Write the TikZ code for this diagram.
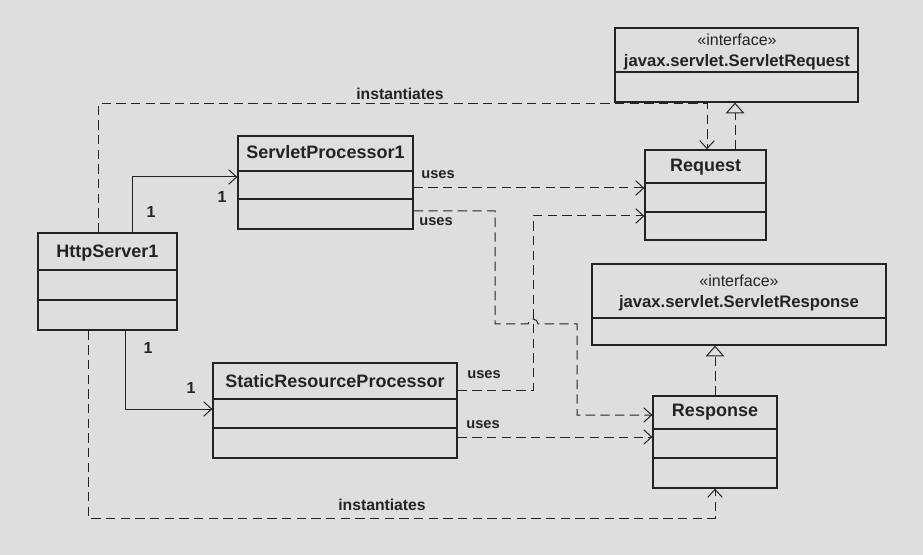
\documentclass[tikz,border=0pt]{standalone}
\usepackage{fontspec}
\setmainfont{Liberation Sans}
\usetikzlibrary{arrows.meta,fit}

\definecolor{paper}{RGB}{222,222,220}
\definecolor{ink}{RGB}{35,35,35}

\tikzset{every picture/.style={line width=0.75pt}}
\tikzset{
  classbox/.style={draw=ink, inner sep=0pt, line width=1pt},
  compline/.style={draw=ink, line width=1pt},
  classname/.style={font=\fontsize{13.5}{16}\selectfont\bfseries, text=ink},
  ifacename/.style={font=\fontsize{12.5}{15}\selectfont\bfseries, text=ink},
  stereo/.style={font=\fontsize{12}{14}\selectfont, text=ink},
  edgelabel/.style={font=\fontsize{11}{13}\selectfont\bfseries, text=ink},
  instlabel/.style={font=\fontsize{11.8}{14}\selectfont\bfseries, text=ink},
  multlabel/.style={font=\fontsize{12}{14}\selectfont\bfseries, text=ink},
  dep/.style={draw=ink, dash pattern=on 7pt off 4pt, -{Straight Barb[length=6pt,width=11pt]}},
  assoc/.style={draw=ink, -{Straight Barb[length=6pt,width=11pt]}},
  realize/.style={draw=ink, dash pattern=on 7pt off 4pt, -{Triangle[open,length=8pt,width=14pt,fill=paper]}},
}

\begin{document}
\begin{tikzpicture}[x=0.75pt,y=0.75pt,yscale=-1,xscale=1]

%Shape: Background
\fill[paper] (0,0) rectangle (923,555);

%Shape: Rectangle [interface ServletRequest]
\node[classbox, fit={(615,28) (858,102)}] (sreq) {};
\draw[compline] (sreq.west |- 0,72) -- (sreq.east |- 0,72);
%Shape: Rectangle [Request]
\node[classbox, fit={(645,150) (766,240)}] (req) {};
\draw[compline] (req.west |- 0,183) -- (req.east |- 0,183);
\draw[compline] (req.west |- 0,212) -- (req.east |- 0,212);
%Shape: Rectangle [ServletProcessor1]
\node[classbox, fit={(238,136) (413,229)}] (sp) {};
\draw[compline] (sp.west |- 0,171) -- (sp.east |- 0,171);
\draw[compline] (sp.west |- 0,199) -- (sp.east |- 0,199);
%Shape: Rectangle [HttpServer1]
\node[classbox, fit={(38,233) (177,330)}] (http) {};
\draw[compline] (http.west |- 0,270) -- (http.east |- 0,270);
\draw[compline] (http.west |- 0,300) -- (http.east |- 0,300);
%Shape: Rectangle [StaticResourceProcessor]
\node[classbox, fit={(213,363) (457,458)}] (srp) {};
\draw[compline] (srp.west |- 0,399) -- (srp.east |- 0,399);
\draw[compline] (srp.west |- 0,428) -- (srp.east |- 0,428);
%Shape: Rectangle [interface ServletResponse]
\node[classbox, fit={(592,264) (886,345)}] (sres) {};
\draw[compline] (sres.west |- 0,318) -- (sres.east |- 0,318);
%Shape: Rectangle [Response]
\node[classbox, fit={(653,396) (777,488)}] (resp) {};
\draw[compline] (resp.west |- 0,429) -- (resp.east |- 0,429);
\draw[compline] (resp.west |- 0,458) -- (resp.east |- 0,458);

%Straight Lines [realizations]
\draw[realize] (req.north -| 735,0) -- (sreq.south -| 735,0);
\draw[realize] (resp.north -| 715,0) -- (sres.south -| 715,0);

%Straight Lines [instantiates]
\draw[dep] (http.north -| 98,0) -- (98,104) -- (707,104) -- (req.north -| 707,0);
\draw[dep] (http.south -| 88,0) -- (88,518) -- (715,518) -- (resp.south -| 715,0);

%Straight Lines [associations]
\draw[assoc] (http.north -| 132,0) -- (132,177) -- (sp.west |- 0,177);
\draw[assoc] (http.south -| 125,0) -- (125,409) -- (srp.west |- 0,409);

%Straight Lines [uses]
\draw[dep] (sp.east |- 0,188) -- (req.west |- 0,188);
\draw[dep] (sp.east |- 0,211) -- (495,211) -- (495,324) -- (528,324) arc (180:360:5) -- (577,324) -- (577,415) -- (resp.west |- 0,415);
\draw[dep] (srp.east |- 0,390) -- (533,390) -- (533,216) -- (req.west |- 0,216);
\draw[dep] (srp.east |- 0,437) -- (resp.west |- 0,437);

% Text Node
\node[stereo] (sreqst) at (737,40) {«interface»};
% Text Node
\node[ifacename] (sreqname) at (737,62) {javax.servlet.ServletRequest};
% Text Node
\node[stereo] (sresst) at (739,281) {«interface»};
% Text Node
\node[ifacename] (sresname) at (739,303) {javax.servlet.ServletResponse};
% Text Node
\node[classname] (reqname) at (705.5,167) {Request};
% Text Node
\node[classname] (spname) at (325.5,152) {ServletProcessor1};
% Text Node
\node[classname] (httpname) at (107.5,253) {HttpServer1};
% Text Node
\node[classname] (srpname) at (335,381) {StaticResourceProcessor};
% Text Node
\node[classname] (respname) at (715,412) {Response};
% Text Node
\node[instlabel] (insttop) at (400,94) {instantiates};
% Text Node
\node[instlabel] (instbot) at (382,505) {instantiates};
% Text Node
\node[edgelabel] (usesa) at (438,175) {uses};
% Text Node
\node[edgelabel] (usesb) at (436,222) {uses};
% Text Node
\node[edgelabel] (usesc) at (484,375) {uses};
% Text Node
\node[edgelabel] (usesd) at (483,425) {uses};
% Text Node
\node[multlabel] (multa) at (151,212) {1};
% Text Node
\node[multlabel] (multb) at (222,197) {1};
% Text Node
\node[multlabel] (multc) at (148,348) {1};
% Text Node
\node[multlabel] (multd) at (191,388) {1};

\end{tikzpicture}
\end{document}
